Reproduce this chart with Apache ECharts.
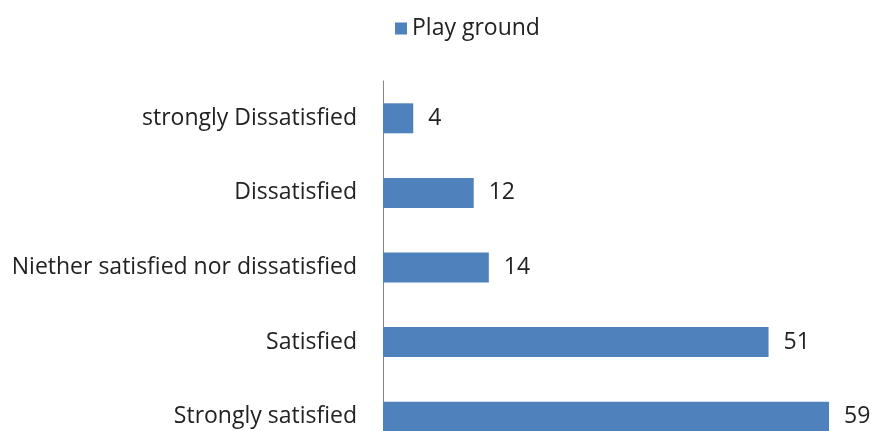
<!DOCTYPE html>
<html><head><meta charset="utf-8">
<script src="https://cdn.jsdelivr.net/npm/echarts@6/dist/echarts.min.js"></script>
<style>html,body{margin:0;padding:0;background:#fff;overflow:hidden}#c{width:875px;height:454px}</style>
</head><body><div id="c"></div>
<script>
const categories = ["Strongly satisfied", "Satisfied", "Niether satisfied nor dissatisfied", "Dissatisfied", "strongly Dissatisfied"];
const values = [59, 51, 14, 12, 4];
const seriesName = "Play ground";
const FONT = "Open Sans";
const chart = echarts.init(document.getElementById('c'));
chart.setOption({
  animation: false,
  legend: {
    data: [seriesName], top: 12, left: 390,
    itemWidth: 12, itemHeight: 12, itemGap: 8,
    icon: 'rect',
    textStyle: {fontFamily: FONT, fontSize: 23, color: '#222'}
  },
  grid: {left: 383, right: 38.4, top: 81, bottom: 0, containLabel: false},
  xAxis: {type: 'value', min: 0, max: 60, show: false, splitLine: {show: false}},
  yAxis: {
    type: 'category', data: categories,
    axisLine: {show: true, lineStyle: {color: '#868686', width: 1}},
    axisTick: {show: false},
    axisLabel: {fontFamily: FONT, fontSize: 23, color: '#222', margin: 26}
  },
  series: [{
    name: seriesName, type: 'bar', data: values, barWidth: 30,
    itemStyle: {color: '#4F81BD'},
    label: {show: true, position: 'right', distance: 15, fontFamily: FONT, fontSize: 23, color: '#222'}
  }]
});
</script></body></html>
